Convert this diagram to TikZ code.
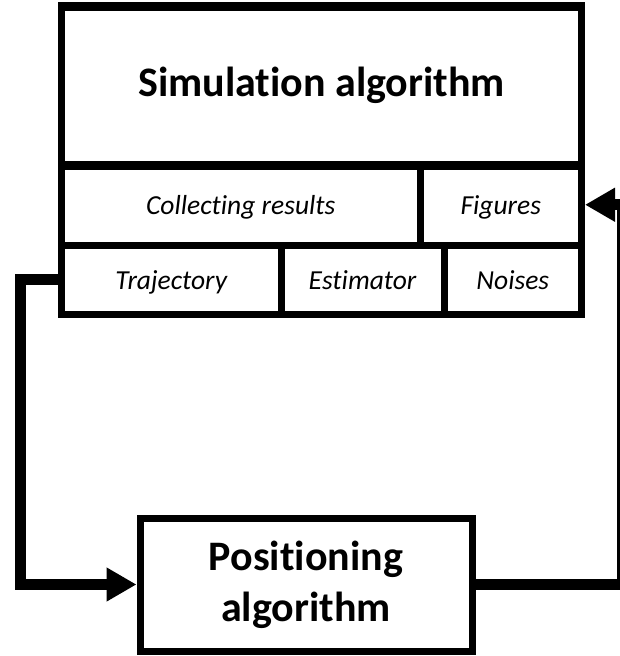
\documentclass[tikz,border=0pt]{standalone}
\usepackage{fontspec}
\setmainfont[Ligatures=NoCommon]{Carlito}
\usetikzlibrary{arrows.meta}
\begin{document}
\begin{tikzpicture}[x=1pt,y=-1pt,
  cell/.style={draw,line width=7pt,inner sep=0pt,rectangle},
  celltext/.style={font=\fontsize{27.5}{33}\selectfont\itshape,text height=21.5pt,text depth=3pt},
  bigtext/.style={font=\fontsize{42}{51}\selectfont\bfseries},
  conn/.style={line width=11pt,line join=miter,-{Triangle[length=30pt,width=32pt]}}]
\useasboundingbox (0,0) rectangle (619,656);
% simulation block
\node[cell,minimum width=520pt,minimum height=309pt] (sim) at (321.5,160) {};
\node[cell,bigtext,minimum width=520pt,minimum height=159pt,text height=29pt,text depth=10pt] (title) at (321.5,87) {Simulation algorithm};
\node[cell,celltext,minimum width=358.5pt,minimum height=80.5pt] (collect) at (240.75,204.75) {Collecting results};
\node[cell,celltext,minimum width=161.5pt,minimum height=80.5pt] (figures) at (500.75,204.75) {Figures};
\node[cell,celltext,minimum width=219.5pt,minimum height=69.5pt] (traj) at (171.25,279.75) {Trajectory};
\node[cell,celltext,minimum width=163pt,minimum height=69.5pt] (estim) at (362.5,279.75) {Estimator};
\node[cell,celltext,minimum width=137.5pt,minimum height=69.5pt] (noises) at (512.75,279.75) {Noises};
% positioning block
\node[cell,bigtext,align=center,minimum width=332pt,minimum height=133pt] (pos) at (306,584.5) {Positioning\\algorithm};
% connectors
\coordinate (lc) at (20,0);
\coordinate (rc) at (622,0);
\draw[conn] (traj.west) -- (traj.west -| lc) |- (pos.west);
\draw[conn] (pos.east) -- (pos.east -| rc) |- (figures.east);
\end{tikzpicture}
\end{document}
